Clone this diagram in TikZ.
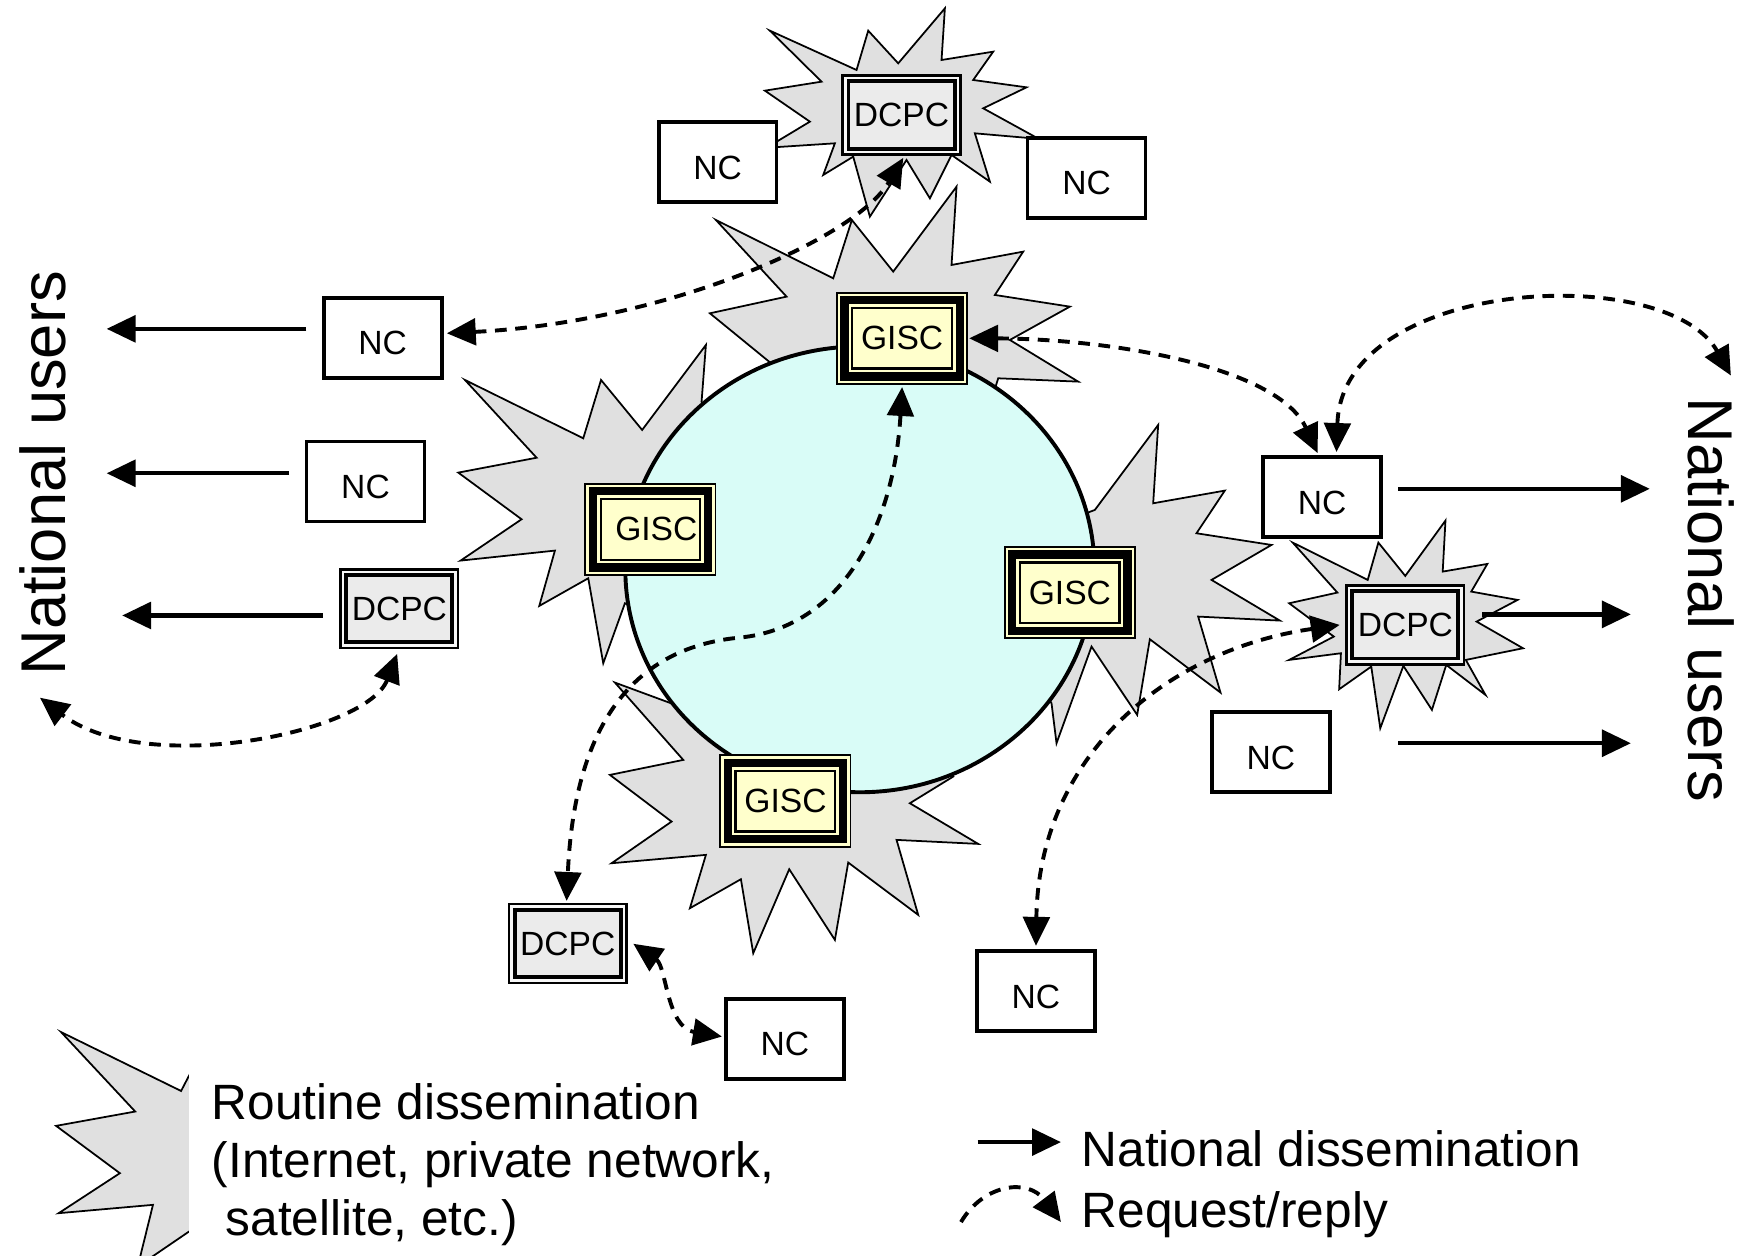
\documentclass[tikz,border=0pt]{standalone}
\usepackage{fontspec}
\setmainfont{Liberation Sans}
\usetikzlibrary{arrows.meta,shapes.geometric}
\definecolor{starfill}{RGB}{224,224,224}
\definecolor{ringfill}{RGB}{217,252,247}
\definecolor{giscfill}{RGB}{255,255,204}
\definecolor{dcpcfill}{RGB}{235,235,235}
\definecolor{dcpcgap}{RGB}{247,247,247}
\newcommand{\nctext}{\raisebox{-4.4pt}[0pt][0pt]{NC}}
\begin{document}
\begin{tikzpicture}[x=0.01cm,y=-0.01cm,
  >={Triangle[length=7.4pt,width=6.8pt]},
  starburst/.style={fill=starfill,draw=black,line width=0.45pt,line join=miter},
  ringstyle/.style={ellipse,draw=black,line width=1pt,fill=ringfill,minimum width=4.22cm,minimum height=4.01cm,inner sep=0pt},
  boxfont/.style={font=\fontsize{8.6}{10}\selectfont},
  ncbox/.style={boxfont,rectangle,draw=black,line width=0.95pt,fill=white,minimum width=1.06cm,minimum height=0.72cm,inner sep=0pt},
  dcpcbox/.style={boxfont,rectangle,draw=black,line width=0.6pt,fill=dcpcfill,minimum width=1.06cm,minimum height=0.71cm,inner sep=0pt,
    path picture={
      \draw[dcpcgap,line width=1.2pt] ([shift={(0.6pt,-0.6pt)}]path picture bounding box.north west) rectangle ([shift={(-0.6pt,0.6pt)}]path picture bounding box.south east);
      \draw[black,line width=1pt] ([shift={(1.5pt,-1.5pt)}]path picture bounding box.north west) rectangle ([shift={(-1.5pt,1.5pt)}]path picture bounding box.south east);
    }},
  giscbox/.style={boxfont,rectangle,draw=black,line width=0.5pt,fill=giscfill,minimum width=1.17cm,minimum height=0.82cm,inner sep=0pt,
    path picture={
      \draw[black,line width=2.1pt] ([shift={(1.9pt,-1.9pt)}]path picture bounding box.north west) rectangle ([shift={(-1.9pt,1.9pt)}]path picture bounding box.south east);
      \draw[black,line width=0.6pt] ([shift={(3.9pt,-3.9pt)}]path picture bounding box.north west) rectangle ([shift={(-3.9pt,3.9pt)}]path picture bounding box.south east);
    }},
  natarrow/.style={->,line width=1.1pt},
  reqarrow/.style={<->,line width=1pt,dash pattern=on 3pt off 2.2pt},
  reqone/.style={->,line width=1pt,dash pattern=on 3pt off 2.2pt},
  bigtext/.style={font=\fontsize{16.2}{19}\selectfont,inner sep=0pt},
  legtext/.style={font=\fontsize{12.7}{15}\selectfont,inner sep=0pt,anchor=base west}
]
\useasboundingbox (0,0) rectangle (1568,1130);

% ---------- starbursts ----------
% top DCPC
\draw[starburst] (850.5,7.5) -- (847.5,54) -- (894,46.5) -- (876,72) -- (924,78.6) -- (885,97.5) -- (935,125) -- (877.5,120) -- (891,163.5) -- (856.5,139.5) -- (837,178.5) -- (816,144) -- (783,195) -- (768,141) -- (741,157.5) -- (751.5,129) -- (690,133) -- (729,109.5) -- (688.5,81.6) -- (739.5,73.5) -- (693,27.6) -- (771,63) -- (781.5,27.6) -- (808.5,57) -- cycle;
% top GISC
\draw[starburst] (644.4,198) -- (750,250.5) -- (766.8,198) -- (804,244.5) -- (861,168) -- (856.5,238.5) -- (921,226.5) -- (895.5,265.5) -- (963,276) -- (909,306) -- (970.5,343.5) -- (898.5,340.5) -- (880,400) -- (750,400) -- (710,340) -- (639,282) -- (708,267) -- cycle;
% left GISC
\draw[starburst] (418.5,342) -- (525,394.5) -- (541,342) -- (578,387) -- (635.4,310.5) -- (631.5,361.5) -- (650,450) -- (600,560) -- (562.5,543) -- (543,597) -- (529.5,520.5) -- (485.4,545.4) -- (499.5,495.6) -- (414.6,504.6) -- (469.5,467.4) -- (412.5,425.4) -- (483,412) -- cycle;
% right GISC
\draw[starburst] (985.5,459) -- (1042.5,382.5) -- (1038,453) -- (1102.5,441.6) -- (1077,480) -- (1144.5,490.5) -- (1090.5,522) -- (1152,558.6) -- (1078.5,555) -- (1098.6,623.4) -- (1035,575.4) -- (1023.6,643.5) -- (982.5,582) -- (951,669) -- (946.5,633) -- (900,560) -- (930,480) -- cycle;
% bottom GISC
\draw[starburst] (553.5,614.4) -- (615,684) -- (549,697.5) -- (604.5,739.5) -- (550.5,777) -- (635.4,769.5) -- (621,817.5) -- (666.9,791.4) -- (678,858) -- (710.4,782.4) -- (751.5,846) -- (763.5,776.4) -- (826.5,823.5) -- (807,756) -- (880.5,759.6) -- (819,723) -- (858,699) -- (800,650) -- (650,650) -- cycle;
% right DCPC
\draw[starburst] (1163.6,488.4) -- (1203.8,533.4) -- (1160.4,543) -- (1200.6,573) -- (1160.4,594) -- (1207,588) -- (1205.4,620.4) -- (1234.3,600) -- (1242.4,655.5) -- (1263.2,599.4) -- (1288.9,639) -- (1301.8,598.5) -- (1337.1,625.5) -- (1319.4,594) -- (1370.9,583.5) -- (1329.1,559.5) -- (1366,540) -- (1324.3,532.5) -- (1338.8,507.6) -- (1298.6,514.5) -- (1301.1,468.6) -- (1264.9,518.4) -- (1240.7,488.4) -- (1231.1,522) -- cycle;
% legend star (clipped)
\begin{scope}
  \clip (0,900) rectangle (170,1130);
  \draw[starburst] (55,929) -- (163,982) -- (190,930) -- (250,1000) -- (190,1095) -- (124,1140) -- (137.7,1084.5) -- (52.8,1092) -- (107.9,1056) -- (50.5,1013.4) -- (121.7,1000.5) -- cycle;
\end{scope}

% ---------- ring ----------
\node[ringstyle] (ring) at (774,512.5) {};

% ---------- boxes ----------
\node[dcpcbox] (dcpcT) at (811.5,103.5) {DCPC};
\node[ncbox] (ncTL) at (646,146) {\nctext};
\node[ncbox] (ncTR) at (978,160) {\nctext};
\node[ncbox] (ncL1) at (344.5,304) {\nctext};
\node[ncbox] (ncL2) at (329,433.5) {\nctext};
\node[dcpcbox] (dcpcL) at (359.5,548) {DCPC};
\node[ncbox] (ncR1) at (1190,447.5) {\nctext};
\node[dcpcbox] (dcpcR) at (1265,562.5) {DCPC};
\node[ncbox] (ncR2) at (1144,677) {\nctext};
\node[dcpcbox] (dcpcB) at (511,849.5) {DCPC};
\node[ncbox] (ncB) at (706.5,935) {\nctext};
\node[ncbox] (ncBM) at (932.5,892) {\nctext};

\node[giscbox] (giscT) at (812,304.5) {GISC};
\node[giscbox] (giscL) at (585.5,476.5) {\hspace{3pt}GISC};
\node[giscbox] (giscR) at (963,533.5) {GISC};
\node[giscbox] (giscB) at (707,721) {GISC};

% ---------- national users ----------
\node[bigtext,rotate=90] (usersL) at (38.5,426) {National users};
\node[bigtext,rotate=-90] (usersR) at (1540,540) {National users};

\coordinate (uL1) at (96,296);
\coordinate (uL2) at (96,426);
\coordinate (uL3) at (110,554);
\coordinate (uR1) at (1485,440);
\coordinate (uR2) at (1468,553);
\coordinate (uR3) at (1468,669);
\coordinate (uRreq) at (1558,338);
\coordinate (uLreq) at (36,628);

\draw[natarrow] ([shift={(-14,-8)}]ncL1.west) -- (uL1);
\draw[natarrow] ([shift={(-14,-7.5)}]ncL2.west) -- (uL2);
\draw[natarrow] ([shift={(-15,6)}]dcpcL.west) -- (uL3);
\draw[natarrow] ([shift={(14,-7.5)}]ncR1.east) -- (uR1);
\draw[natarrow] ([shift={(15,-9.5)}]dcpcR.east) -- (uR2);
\draw[natarrow] ([shift={(60,-8)}]ncR2.east) -- (uR3);

% ---------- request / reply ----------
\draw[reqarrow] ([shift={(3,-4)}]ncL1.east) .. controls (600,290) and (770,215) .. ([shift={(1.5,2)}]dcpcT.south);
\draw[reqarrow] ([shift={(1,0)}]giscT.east) .. controls (1000,305) and (1150,330) .. ([shift={(-4,-2)}]ncR1.north);
\draw[reqarrow] ([shift={(13,-3)}]ncR1.north) .. controls (1208,250) and (1500,235) .. (uRreq);
\draw[reqarrow] ([shift={(0,2)}]giscT.south) .. controls (805,470) and (760,565) .. (665,574) .. controls (540,586) and (515,700) .. ([shift={(-1,-2)}]dcpcB.north);
\draw[reqarrow] ([shift={(5,0)}]dcpcB.east) .. controls (600,870) and (600,925) .. ([shift={(-2,-2)}]ncB.west);
\draw[reqarrow] ([shift={(-2,4)}]dcpcL.south) .. controls (330,660) and (130,700) .. (uLreq);
\draw[reqarrow] ([shift={(-5,0)}]dcpcR.west) .. controls (1050,585) and (935,680) .. ([shift={(0,-3)}]ncBM.north);

% ---------- legend ----------
\node[legtext] (leg1) at (190,1008) {Routine dissemination};
\node[legtext] (leg2) at (190,1060) {(Internet, private network,};
\node[legtext] (leg3) at (190,1112) {\ satellite, etc.)};

\coordinate (legS1) at (880,1028);
\coordinate (legS2) at (955,1028);
\coordinate (legD1) at (865,1100);
\coordinate (legD2) at (955,1100);
\draw[natarrow] (legS1) -- (legS2);
\draw[reqone] (legD1) .. controls (885,1066) and (925,1060) .. (legD2);
\node[legtext] (legN) at (973,1050) {National dissemination};
\node[legtext] (legR) at (973,1105) {Request/reply};
\end{tikzpicture}
\end{document}
